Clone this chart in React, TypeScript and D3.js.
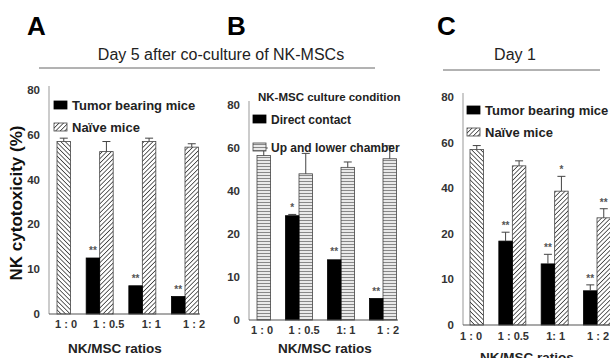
import React from "react";
import * as d3 from "d3";

// categories + tick labels
const categories = ["1 : 0", "1 : 0.5", "1: 1", "1 : 2"];
const yTicks = [0, 10, 20, 40, 60, 80];

// Panel A - day 5
const tumorA = [null, 12.5, 6.3, 3.9];
const tumorAErr = [0, 0.3, 0.2, 0.2];
const tumorAStars = ["", "**", "**", "**"];
const naiveA = [57, 52.5, 57, 54.5];
const naiveAErr = [1.5, 4.5, 1.5, 1.5];
const naiveAStars = ["", "", "", ""];

// Panel B - culture condition
const directB = [null, 28.5, 14, 5];
const directBErr = [0, 0.6, 0.4, 0.2];
const directBStars = ["", "*", "**", "**"];
const chamberB = [56.5, 48, 51, 55];
const chamberBErr = [3.5, 9.5, 2.5, 6];
const chamberBStars = ["", "", "", ""];

// Panel C - day 1
const tumorC = [null, 18.4, 13.4, 7.5];
const tumorCErr = [0, 2.3, 2.1, 1.3];
const tumorCStars = ["", "**", "**", "**"];
const naiveC = [57, 49.8, 38.7, 27];
const naiveCErr = [1.7, 2.2, 6.5, 4];
const naiveCStars = ["", "", "*", "**"];

const FONT = "Arial, 'Liberation Sans', sans-serif";

const panels = [
  {
    id: "A",
    letterX: 27,
    axisX: 49,
    axisEnd: 200,
    y0: 314,
    y80: 90,
    xRange: [57, 185],
    tickY: 328,
    tickShift: 9,
    titleY: 353,
    titleX: 115,
    dark: tumorA, darkErr: tumorAErr, darkStars: tumorAStars,
    light: naiveA, lightErr: naiveAErr, lightStars: naiveAStars,
    lightFill: "url(#hatch)",
    firstFill: "url(#hatchBack)",
    legend: { x: 54, y: 101, title: null, labels: ["Tumor bearing mice", "Naïve mice"], gap: 22 },
  },
  {
    id: "B",
    letterX: 227,
    axisX: 249,
    axisEnd: 398,
    y0: 320,
    y80: 105,
    xRange: [257, 383],
    tickY: 334,
    tickShift: 5,
    titleY: 353,
    titleX: 325,
    dark: directB, darkErr: directBErr, darkStars: directBStars,
    light: chamberB, lightErr: chamberBErr, lightStars: chamberBStars,
    lightFill: "url(#stripes)",
    firstFill: "url(#stripes)",
    legend: { x: 253, y: 115, title: "NK-MSC culture condition", labels: ["Direct contact", "Up and lower chamber"], gap: 28 },
  },
  {
    id: "C",
    letterX: 437,
    axisX: 463,
    axisEnd: 612,
    y0: 325,
    y80: 97,
    xRange: [470, 597],
    tickY: 340,
    tickShift: 1,
    titleY: 362,
    titleX: 527,
    dark: tumorC, darkErr: tumorCErr, darkStars: tumorCStars,
    light: naiveC, lightErr: naiveCErr, lightStars: naiveCStars,
    lightFill: "url(#hatch)",
    firstFill: "url(#hatchBack)",
    legend: { x: 467, y: 106, title: null, labels: ["Tumor bearing mice", "Naïve mice"], gap: 22 },
  },
];

const BW = 13.5;

const Panel = ({ p }) => {
  const step = (p.y0 - p.y80) / (yTicks.length - 1);
  const y = d3
    .scaleLinear()
    .domain(yTicks)
    .range(yTicks.map((_, i) => p.y0 - i * step)); // evenly spaced uneven ticks
  const x = d3.scalePoint().domain(categories).range(p.xRange);

  const bar = (vals, errs, stars, side, fillFn) =>
    categories.map((c, i) => {
      const v = vals[i];
      if (v == null) return null;
      const cx = x(c);
      const left = side === "dark" ? cx - BW : cx;
      const top = y(v);
      const errTop = y(v + errs[i]);
      return (
        <g key={side + c}>
          <rect
            x={left}
            y={top}
            width={BW}
            height={p.y0 - top}
            fill={fillFn(i)}
            stroke={side === "dark" ? "#000" : "#444"}
            strokeWidth={0.8}
          />
          {errs[i] > 0.5 && (
            <g stroke="#444" strokeWidth={1}>
              <line x1={left + BW / 2} x2={left + BW / 2} y1={top} y2={errTop} />
              <line x1={left + BW / 2 - 4} x2={left + BW / 2 + 4} y1={errTop} y2={errTop} />
            </g>
          )}
          {stars[i] && (
            <text
              x={left + BW / 2}
              y={errTop - 3}
              textAnchor="middle"
              fontSize={10}
              fontWeight="bold"
              fill="#555"
            >
              {stars[i]}
            </text>
          )}
        </g>
      );
    });

  const lg = p.legend;
  return (
    <g fontFamily={FONT}>
      <text x={p.letterX} y={35} fontSize={26} fontWeight="bold">
        {p.id}
      </text>

      {/* y axis */}
      <line x1={p.axisX} x2={p.axisX} y1={p.y80 - 4} y2={p.y0} stroke="#999" strokeWidth={1} />
      {yTicks.map((t) => (
        <text
          key={t}
          x={p.axisX - 9}
          y={y(t) + 4}
          textAnchor="end"
          fontSize={11.5}
          fontWeight="bold"
          fill="#333"
        >
          {t}
        </text>
      ))}

      {bar(p.light, p.lightErr, p.lightStars, "light", (i) => (i === 0 ? p.firstFill : p.lightFill))}
      {bar(p.dark, p.darkErr, p.darkStars, "dark", () => "#000")}

      {/* x axis */}
      <line x1={p.axisX} x2={p.axisEnd} y1={p.y0} y2={p.y0} stroke="#555" strokeWidth={1.2} />
      {categories.map((c) => (
        <text
          key={c}
          x={x(c) + p.tickShift}
          y={p.tickY}
          textAnchor="middle"
          fontSize={11}
          fontWeight="bold"
          fill="#333"
        >
          {c}
        </text>
      ))}
      <text x={p.titleX} y={p.titleY} textAnchor="middle" fontSize={13.5} fontWeight="bold" fill="#222">
        NK/MSC ratios
      </text>

      {/* legend */}
      {lg.title && (
        <text x={lg.x + 5} y={lg.y - 14} fontSize={11.5} fontWeight="bold" fill="#222">
          {lg.title}
        </text>
      )}
      {lg.labels.map((l, i) => (
        <g key={l} transform={`translate(${lg.x},${lg.y + i * lg.gap})`}>
          <rect
            width={13}
            height={8}
            fill={i === 0 ? "#000" : p.lightFill}
            stroke={i === 0 ? "#000" : "#444"}
            strokeWidth={0.8}
          />
          <text x={18} y={9} fontSize={lg.title ? 12 : 13} fontWeight="bold" fill="#222">
            {l}
          </text>
        </g>
      ))}
    </g>
  );
};

export default function App() {
  return (
    <svg
      width={610}
      height={358}
      style={{ position: "absolute", left: 0, top: 0, background: "#fff" }}
    >
      <defs>
        <pattern id="hatch" width={3.2} height={3.2} patternUnits="userSpaceOnUse" patternTransform="rotate(45)">
          <rect width={3.2} height={3.2} fill="#fff" />
          <line x1={0} x2={0} y1={0} y2={3.2} stroke="#111" strokeWidth={1.3} />
        </pattern>
        <pattern id="hatchBack" width={3.2} height={3.2} patternUnits="userSpaceOnUse" patternTransform="rotate(-45)">
          <rect width={3.2} height={3.2} fill="#fff" />
          <line x1={0} x2={0} y1={0} y2={3.2} stroke="#111" strokeWidth={1.3} />
        </pattern>
        <pattern id="stripes" width={3} height={3} patternUnits="userSpaceOnUse">
          <rect width={3} height={3} fill="#f4f4f4" />
          <line x1={0} x2={3} y1={1.5} y2={1.5} stroke="#888" strokeWidth={1.2} />
        </pattern>
      </defs>

      {/* y-axis title, panel A only */}
      <text
        transform="translate(22,203) rotate(-90)"
        textAnchor="middle"
        fontFamily={FONT}
        fontSize={17}
        fontWeight="bold"
        fill="#111"
      >
        NK cytotoxicity (%)
      </text>

      {/* header rules */}
      <text x={221} y={60} textAnchor="middle" fontFamily={FONT} fontSize={16} fill="#222">
        Day 5 after co-culture of NK-MSCs
      </text>
      <line x1={39} x2={375} y1={68} y2={68} stroke="#666" strokeWidth={1} />
      <text x={515} y={60} textAnchor="middle" fontFamily={FONT} fontSize={16} fill="#222">
        Day 1
      </text>
      <line x1={443} x2={600} y1={70} y2={70} stroke="#666" strokeWidth={1} />

      {panels.map((p) => (
        <Panel key={p.id} p={p} />
      ))}
    </svg>
  );
}
